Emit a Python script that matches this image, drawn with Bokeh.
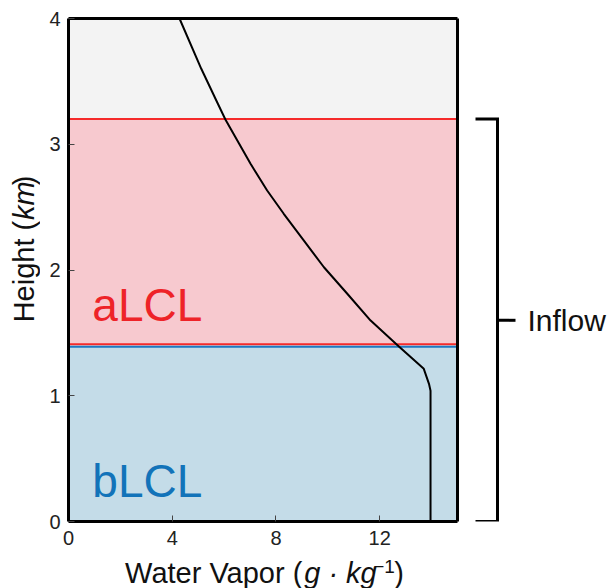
import math
from bokeh.plotting import figure
from bokeh.layouts import row, column
from bokeh.models import Range1d, FixedTicker, LinearAxis
from bokeh.embed import file_html
from bokeh.resources import INLINE
from bokeh.core.properties import value

# Water vapor mixing ratio profile
height = [0.0, 1.04, 1.095, 1.214, 1.392, 1.598, 1.811, 2.022, 2.235, 2.447,
          2.632, 2.845, 3.03, 3.197, 3.348, 3.6, 4.0]                      # km
vapor = [13.96, 13.96, 13.90, 13.70, 12.74, 11.65, 10.75, 9.85, 9.07, 8.30,
         7.66, 7.02, 6.51, 6.05, 5.70, 5.12, 4.28]                         # g/kg

# Layer boundaries (km)
surface = 0.0
lcl_height = 1.4
inflow_top = 3.2

x_ticks = [0, 4, 8, 12]
y_ticks = [0, 1, 2, 3, 4]
x_lim = (0, 15)
y_lim = (0, 4)

FONT = "Liberation Sans"
INK = "#111111"

# geometry (px)
TITLE_W, TITLE_H = 40, 34
LEFT, TOP, BOTTOM, RIGHT = 28, 18, 33, 3
FRAME_W, FRAME_H = 389, 503
MAIN_W = LEFT + FRAME_W + RIGHT
FULL_H = TOP + FRAME_H + BOTTOM + TITLE_H
px_y = FRAME_H / (y_lim[1] - y_lim[0])

# Arial / Liberation Sans advance widths (per em)
ADV = {"W": .944, "a": .556, "t": .278, "e": .556, "r": .333, " ": .278, "V": .667,
       "p": .556, "o": .556, "(": .333, ")": .333, "g": .556, "\u00b7": .333,
       "k": .5, "\u2212": .584, "1": .556, "H": .722, "i": .222, "h": .556, "m": .833}


def width(s, size):
    return sum(ADV.get(c, .556) for c in s) * size


def panel(w, h, xr, yr, **borders):
    fig = figure(width=w, height=h, x_range=xr, y_range=yr, title=None,
                 x_axis_location=None, y_axis_location=None,
                 output_backend="svg", toolbar_location=None, **borders)
    fig.grid.visible = False
    fig.outline_line_color = None
    fig.background_fill_color = "white"
    fig.border_fill_color = "white"
    return fig


# ---------------- main panel ----------------
p = figure(width=MAIN_W, height=TOP + FRAME_H + BOTTOM, title=None,
           x_range=Range1d(*x_lim), y_range=Range1d(*y_lim),
           output_backend="svg", toolbar_location=None,
           min_border_left=LEFT, min_border_right=RIGHT,
           min_border_top=TOP, min_border_bottom=BOTTOM)
p.background_fill_color = "white"
p.border_fill_color = "white"
p.grid.visible = False
p.outline_line_color = None

# layer bands
p.quad(left=x_lim[0], right=x_lim[1], bottom=inflow_top, top=y_lim[1],
       fill_color="#f3f3f3", line_color=None)
p.quad(left=x_lim[0], right=x_lim[1], bottom=lcl_height, top=inflow_top,
       fill_color="#f7c9cf", line_color=None)
p.quad(left=x_lim[0], right=x_lim[1], bottom=surface, top=lcl_height,
       fill_color="#c4dce8", line_color=None)

edge = 1.2 / px_y
p.segment(x0=x_lim[0], x1=x_lim[1], y0=inflow_top, y1=inflow_top,
          line_color="#f52a2a", line_width=2)
p.segment(x0=x_lim[0], x1=x_lim[1], y0=lcl_height + edge, y1=lcl_height + edge,
          line_color="#f52a2a", line_width=2)
p.segment(x0=x_lim[0], x1=x_lim[1], y0=lcl_height - edge, y1=lcl_height - edge,
          line_color="#1f78c1", line_width=2)

# profile
p.line(vapor, height, line_color="black", line_width=2, line_join="round")

p.text(x=[0.92], y=[1.72], text=["aLCL"], text_color="#ee2328",
       text_font=value(FONT), text_font_size="46px", text_baseline="middle")
p.text(x=[0.92], y=[0.32], text=["bLCL"], text_color="#1273b9",
       text_font=value(FONT), text_font_size="46px", text_baseline="middle")

# axes: labelled bottom/left, plain top/right to close the box
for ax in (p.xaxis[0], p.yaxis[0]):
    ax.axis_line_color = "black"
    ax.axis_line_width = 3
    ax.major_tick_in = 6
    ax.major_tick_out = 0
    ax.major_tick_line_color = "#444444"
    ax.major_tick_line_width = 1
    ax.minor_tick_line_color = None
    ax.major_label_text_font = FONT
    ax.major_label_text_font_size = "20px"
    ax.major_label_text_color = "#222222"
p.xaxis.ticker = FixedTicker(ticks=x_ticks)
p.yaxis.ticker = FixedTicker(ticks=y_ticks)
p.xaxis.major_label_standoff = 9
p.yaxis.major_label_standoff = 8

for side in ("above", "right"):
    box = LinearAxis(axis_line_color="black", axis_line_width=3,
                     major_tick_line_color=None, minor_tick_line_color=None,
                     major_tick_in=0, major_tick_out=0, major_label_standoff=0,
                     major_label_text_font_size="0px")
    box.ticker = FixedTicker(ticks=[])
    p.add_layout(box, side)

# ---------------- axis titles ----------------
LS = 29
SUP = 19


def title_text(fig, x, y, txt, style, size, align, angle=0.0):
    fig.text(x=[x], y=[y], text=[txt], angle=angle, text_font=value(FONT),
             text_font_style=style, text_font_size=f"{size}px", text_color=INK,
             text_baseline="middle", text_align=align)


# x title: Water Vapor (g · kg⁻¹), chained from the end of "("
xt = panel(MAIN_W, TITLE_H, Range1d(0, MAIN_W), Range1d(0, TITLE_H), min_border=0)
xmid = 16
ax0 = 72 + width("Water Vapor (", LS)
title_text(xt, ax0, xmid, "Water Vapor (", "normal", LS, "right")
cx = ax0 + 2
title_text(xt, cx, xmid, "g \u00b7 kg", "italic", LS, "left")
cx += width("g \u00b7 kg", LS) + 2
title_text(xt, cx, xmid + 6, "\u22121", "normal", SUP, "left")
cx += width("\u22121", SUP) + 1
title_text(xt, cx, xmid, ")", "normal", LS, "left")

# y title: Height (km), chained from the end of "("
yt = panel(TITLE_W, FULL_H, Range1d(0, TITLE_W), Range1d(0, FULL_H), min_border=0)
ay0 = 250 + width("Height (", LS)
title_text(yt, 23, ay0, "Height (", "normal", LS, "right", math.pi / 2)
cy = ay0 + 1
title_text(yt, 23, cy, "km", "italic", LS, "left", math.pi / 2)
cy += width("km", LS) + 2
title_text(yt, 23, cy, ")", "normal", LS, "left", math.pi / 2)

# ---------------- inflow bracket ----------------
b = panel(150, FULL_H, Range1d(0, 150), p.y_range,
          min_border_left=0, min_border_right=0,
          min_border_top=TOP, min_border_bottom=BOTTOM + TITLE_H)

mid = (surface + inflow_top) / 2
b.line([15, 37, 37, 15], [inflow_top, inflow_top, surface, surface],
       line_color="black", line_width=3, line_join="miter")
b.segment(x0=37, x1=55, y0=mid, y1=mid, line_color="black", line_width=3)
b.text(x=[67], y=[mid], text=["Inflow"], text_font=value(FONT),
       text_font_size="30px", text_baseline="middle", text_align="left",
       text_color=INK)

layout = row(yt, column(p, xt), b)
open("out.html", "w").write(file_html(layout, INLINE))
